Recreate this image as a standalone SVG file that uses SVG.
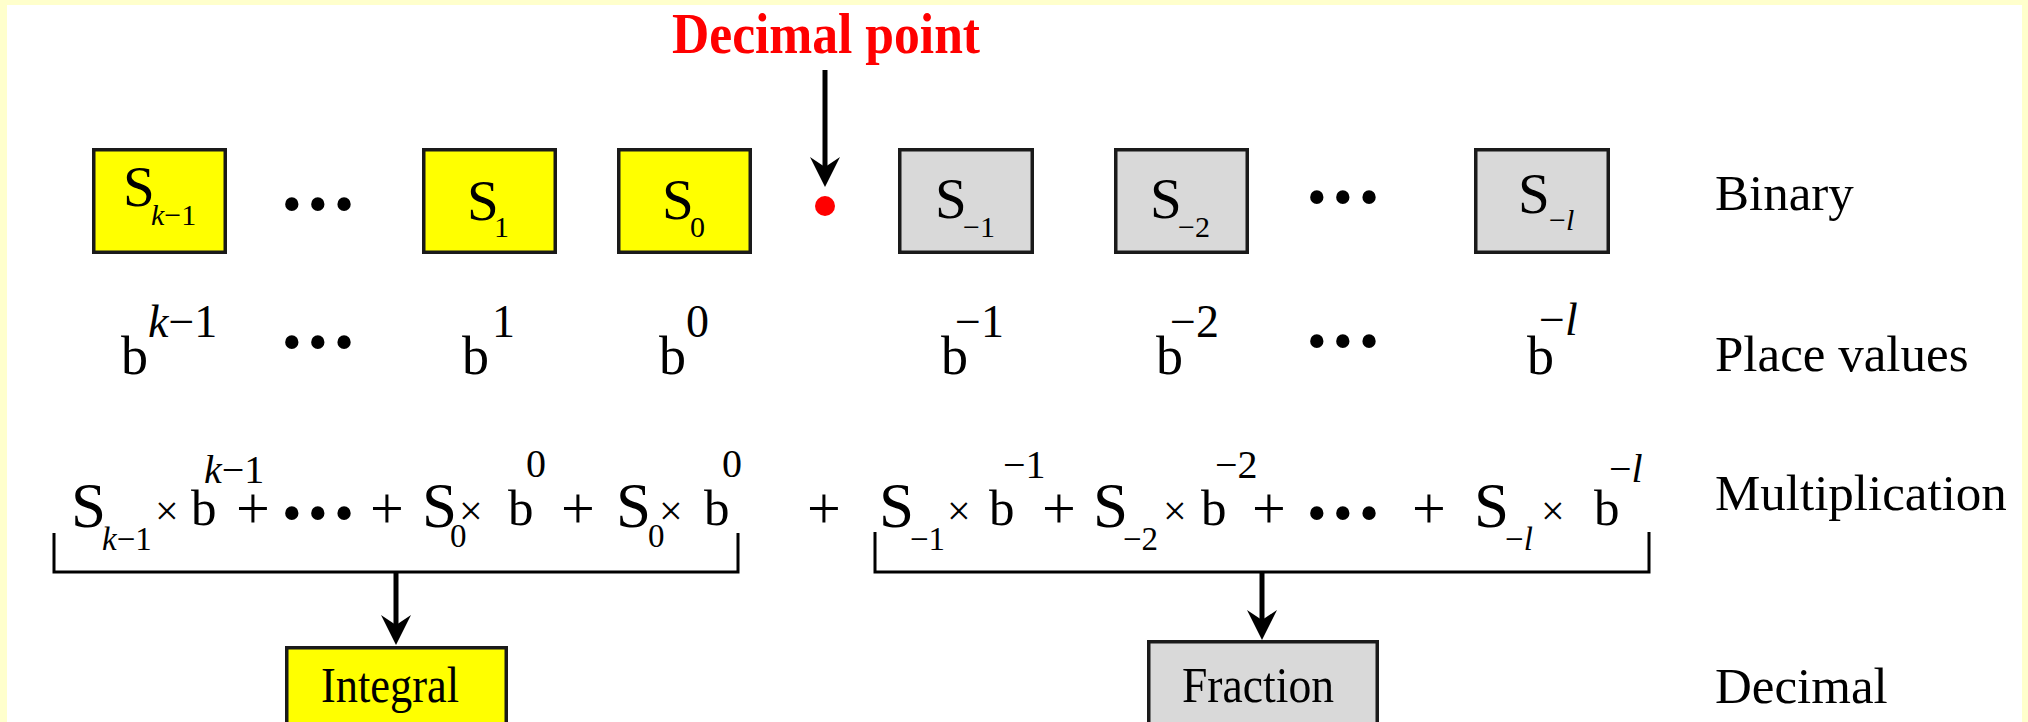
<svg xmlns="http://www.w3.org/2000/svg" width="2028" height="722" viewBox="0 0 2028 722">
<defs>
<style>
.t{font-family:"Liberation Serif","Times New Roman",serif;fill:#000}
.s{font-size:57px}
.sb{font-size:30px}
.b{font-size:54px}
.sp{font-size:46px}
.ms{font-size:63px}
.mb{font-size:51px}
.msb{font-size:33px}
.msp{font-size:40px}
.op{font-size:60px}
.x{font-size:42px}
.dots{font-size:56px;letter-spacing:6.5px}
.lab{font-size:51px}
.i{font-style:italic}
.yel{fill:#FFFF00;stroke:#1a1a1a;stroke-width:3.5}
.gry{fill:#D9D9D9;stroke:#1a1a1a;stroke-width:3.5}
.ln{fill:none;stroke:#000;stroke-width:3}
.ar{fill:none;stroke:#000;stroke-width:5}
</style>
<marker id="ah" viewBox="0 0 30 30" refX="10" refY="15" markerWidth="30" markerHeight="30" markerUnits="userSpaceOnUse" orient="auto">
<path d="M0,0 L30,15 L0,30 L10,15 Z" fill="#000"/>
</marker>
</defs>
<rect x="0" y="0" width="2028" height="722" fill="#FFFFCC"/>
<rect x="7" y="5" width="2015" height="717" fill="#FFFFFF"/>

<g id="decimal-point">
<text class="t" x="672" y="53" font-size="58" font-weight="bold" fill="#FF0000" style="fill:#FF0000" textLength="308" lengthAdjust="spacingAndGlyphs">Decimal point</text>
<circle cx="825" cy="206" r="10" fill="#FF0000"/>
</g>

<g id="box-sk1">
<rect class="yel" x="93.75" y="149.75" width="131.5" height="102.5"/>
<text class="t s" x="123" y="206">S</text>
<text class="t sb" x="151" y="225"><tspan class="i">k</tspan>−1</text>
</g>
<g id="dots1"><text class="t dots" x="282" y="223">•••</text></g>
<g id="box-s1">
<rect class="yel" x="423.75" y="149.75" width="131.5" height="102.5"/>
<text class="t s" x="467" y="220">S</text>
<text class="t sb" x="494" y="237">1</text>
</g>
<g id="box-s0">
<rect class="yel" x="618.75" y="149.75" width="131.5" height="102.5"/>
<text class="t s" x="662" y="219">S</text>
<text class="t sb" x="690" y="237">0</text>
</g>
<g id="box-sm1">
<rect class="gry" x="899.75" y="149.75" width="132.5" height="102.5"/>
<text class="t s" x="935" y="218">S</text>
<text class="t sb" x="963" y="237">−1</text>
</g>
<g id="box-sm2">
<rect class="gry" x="1115.75" y="149.75" width="131.5" height="102.5"/>
<text class="t s" x="1150" y="218">S</text>
<text class="t sb" x="1178" y="237">−2</text>
</g>
<g id="dots2"><text class="t dots" x="1307" y="216">•••</text></g>
<g id="box-sml">
<rect class="gry" x="1475.75" y="149.75" width="132.5" height="102.5"/>
<text class="t s" x="1518" y="213">S</text>
<text class="t sb" x="1549" y="230">−<tspan class="i">l</tspan></text>
</g>

<g id="place-values">
<text class="t b" x="121" y="374">b</text>
<text class="t sp" x="148" y="337"><tspan class="i">k</tspan>−1</text>
<text class="t dots" x="282" y="361">•••</text>
<text class="t b" x="462" y="374">b</text>
<text class="t sp" x="492" y="337">1</text>
<text class="t b" x="659" y="374">b</text>
<text class="t sp" x="686" y="337">0</text>
<text class="t b" x="941" y="374">b</text>
<text class="t sp" x="955" y="337">−1</text>
<text class="t b" x="1156" y="374">b</text>
<text class="t sp" x="1170" y="337">−2</text>
<text class="t dots" x="1307" y="360">•••</text>
<text class="t b" x="1527" y="374">b</text>
<text class="t sp" x="1539" y="335">−<tspan class="i">l</tspan></text>
</g>

<g id="multiplication">
<text class="t ms" x="71" y="527">S</text>
<text class="t msb" x="102" y="550"><tspan class="i">k</tspan>−1</text>
<text class="t x" x="155" y="525">×</text>
<text class="t mb" x="191" y="525">b</text>
<text class="t msp" x="204" y="483"><tspan class="i">k</tspan>−1</text>
<text class="t op" x="236" y="528">+</text>
<text class="t dots" x="282" y="532">•••</text>
<text class="t op" x="370" y="528">+</text>
<text class="t ms" x="422" y="527">S</text>
<text class="t msb" x="450" y="547">0</text>
<text class="t x" x="459" y="525">×</text>
<text class="t mb" x="508" y="525">b</text>
<text class="t msp" x="526" y="477">0</text>
<text class="t op" x="561" y="528">+</text>
<text class="t ms" x="616" y="527">S</text>
<text class="t msb" x="648" y="547">0</text>
<text class="t x" x="659" y="525">×</text>
<text class="t mb" x="704" y="525">b</text>
<text class="t msp" x="722" y="477">0</text>
<text class="t op" x="807" y="528">+</text>
<text class="t ms" x="879" y="527">S</text>
<text class="t msb" x="910" y="550">−1</text>
<text class="t x" x="947" y="525">×</text>
<text class="t mb" x="989" y="525">b</text>
<text class="t msp" x="1003" y="478">−1</text>
<text class="t op" x="1042" y="528">+</text>
<text class="t ms" x="1093" y="527">S</text>
<text class="t msb" x="1123" y="550">−2</text>
<text class="t x" x="1163" y="525">×</text>
<text class="t mb" x="1201" y="525">b</text>
<text class="t msp" x="1215" y="478">−2</text>
<text class="t op" x="1252" y="528">+</text>
<text class="t dots" x="1307" y="532">•••</text>
<text class="t op" x="1412" y="528">+</text>
<text class="t ms" x="1474" y="527">S</text>
<text class="t msb" x="1505" y="550">−<tspan class="i">l</tspan></text>
<text class="t x" x="1541" y="525">×</text>
<text class="t mb" x="1594" y="525">b</text>
<text class="t msp" x="1609" y="482">−<tspan class="i">l</tspan></text>
</g>

<g id="connectors">
<line class="ar" x1="825" y1="70" x2="825" y2="167" marker-end="url(#ah)"/>
<path class="ln" d="M54,533 V572 H738 V533"/>
<path class="ln" d="M875,532 V572 H1649 V532"/>
<line class="ar" x1="396" y1="572" x2="396" y2="625" marker-end="url(#ah)"/>
<line class="ar" x1="1262" y1="572" x2="1262" y2="620" marker-end="url(#ah)"/>
</g>

<g id="integral">
<rect class="yel" x="286.75" y="647.75" width="219.5" height="90"/>
<text class="t lab" x="321" y="702" textLength="138" lengthAdjust="spacingAndGlyphs">Integral</text>
</g>
<g id="fraction">
<rect class="gry" x="1148.75" y="641.75" width="228.5" height="96"/>
<text class="t lab" x="1182" y="702" textLength="152" lengthAdjust="spacingAndGlyphs">Fraction</text>
</g>

<g id="labels">
<text class="t lab" x="1715" y="210">Binary</text>
<text class="t lab" x="1715" y="371">Place values</text>
<text class="t lab" x="1715" y="510">Multiplication</text>
<text class="t lab" x="1715" y="703">Decimal</text>
</g>
</svg>
